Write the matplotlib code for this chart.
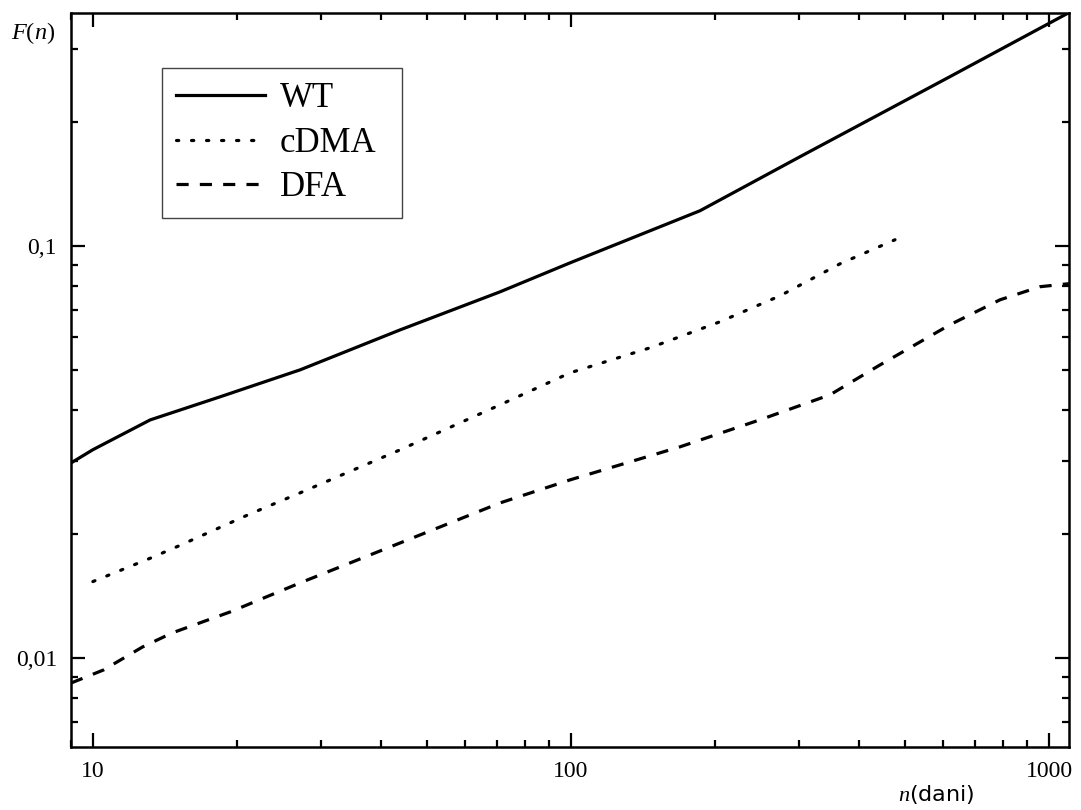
import matplotlib
matplotlib.use("Agg")
import matplotlib.pyplot as plt
from matplotlib.ticker import FixedLocator, FixedFormatter, LogLocator, NullFormatter

plt.rcParams['font.family'] = ['Liberation Serif', 'DejaVu Serif']
plt.rcParams['mathtext.fontset'] = 'custom'
plt.rcParams['mathtext.rm'] = 'Liberation Serif'
plt.rcParams['mathtext.it'] = 'Liberation Serif:italic'

# ---- data ----
wt_n = [9.01, 10.0, 13.18, 18.45, 27.14, 43.92, 71.07, 99.6, 186.2, 301.3, 620.6, 1101]
wt_F = [0.02974, 0.0320, 0.0378, 0.0430, 0.0500, 0.0625, 0.0773, 0.0909, 0.1216, 0.1644, 0.2572, 0.3678]

cdma_n = [10.0, 11.51, 13.24, 15.13, 21.33, 27.14, 43.92, 71.07, 99.6, 146.4, 205.0, 273.7, 365.4, 476.2]
cdma_F = [0.01532, 0.01637, 0.01749, 0.01870, 0.02236, 0.02515, 0.03198, 0.04112, 0.04917,
          0.05655, 0.0654, 0.0756, 0.0904, 0.1034]

dfa_n = [9.01, 10.53, 12.70, 14.65, 19.37, 27.14, 43.92, 71.07, 99.6, 169.1, 248.6, 348.3,
         443.0, 620.6, 789.7, 957.2, 1100]
dfa_F = [0.008696, 0.009352, 0.01063, 0.01150, 0.01293, 0.01521, 0.01901, 0.02377, 0.02704,
         0.03252, 0.03782, 0.04349, 0.05138, 0.06432, 0.07393, 0.07954, 0.08090]

labels = ['WT', 'cDMA', 'DFA']
x_ticks = [10, 100, 1000]
x_ticklabels = ['10', '100', '1000']
y_ticks = [0.01, 0.1]
y_ticklabels = ['0,01', '0,1']

W, H = 1081, 810
fig = plt.figure(figsize=(W / 100, H / 100), dpi=100)
ax = fig.add_axes([71 / W, (H - 747) / H, (1069 - 71) / W, (747 - 13) / H])

lw = 2.3
ax.plot(wt_n, wt_F, color='black', lw=lw, ls='-', label=labels[0])
ax.plot(cdma_n, cdma_F, color='black', lw=lw, dashes=(0.7, 4.0), dash_capstyle='round', label=labels[1])
ax.plot(dfa_n, dfa_F, color='black', lw=lw, dashes=(3.8, 3.5), label=labels[2])

ax.set_xscale('log')
ax.set_yscale('log')
ax.set_xlim(9.0, 1101)
ax.set_ylim(0.00608, 0.367)

ax.xaxis.set_major_locator(FixedLocator(x_ticks))
ax.xaxis.set_major_formatter(FixedFormatter(x_ticklabels))
ax.xaxis.set_minor_locator(LogLocator(base=10, subs=range(2, 10)))
ax.xaxis.set_minor_formatter(NullFormatter())
ax.yaxis.set_major_locator(FixedLocator(y_ticks))
ax.yaxis.set_major_formatter(FixedFormatter(y_ticklabels))
ax.yaxis.set_minor_locator(LogLocator(base=10, subs=range(2, 10)))
ax.yaxis.set_minor_formatter(NullFormatter())

ax.tick_params(which='both', direction='in', top=True, right=True, width=1.6)
ax.tick_params(which='major', length=10, labelsize=17)
ax.tick_params(which='minor', length=5)
ax.tick_params(axis='x', which='major', pad=10)
ax.tick_params(axis='y', which='major', pad=10)
for s in ax.spines.values():
    s.set_linewidth(1.8)

fig.text(33 / W, 1 - 33 / H, r'$F(n)$', ha='center', va='center', fontsize=17.5)
fig.text(975 / W, 1 - 794 / H, r'$n$(dani)', ha='right', va='center', fontsize=16,
         family=['DejaVu Sans'])

lx0, ly_top, lw_box, lh_box = 162 / W, 1 - 68 / H, 240 / W, 144 / H
leg = ax.legend(loc='upper left', bbox_to_anchor=(lx0, ly_top - lh_box, lw_box, lh_box),
                mode='expand', bbox_transform=fig.transFigure, fontsize=25, frameon=True,
                fancybox=False, framealpha=1, edgecolor='#444444',
                handlelength=2.56, handletextpad=0.43, labelspacing=0.34,
                borderpad=0.4, borderaxespad=0)
leg.get_frame().set_linewidth(1.0)

fig.savefig('out.png', dpi=100)
